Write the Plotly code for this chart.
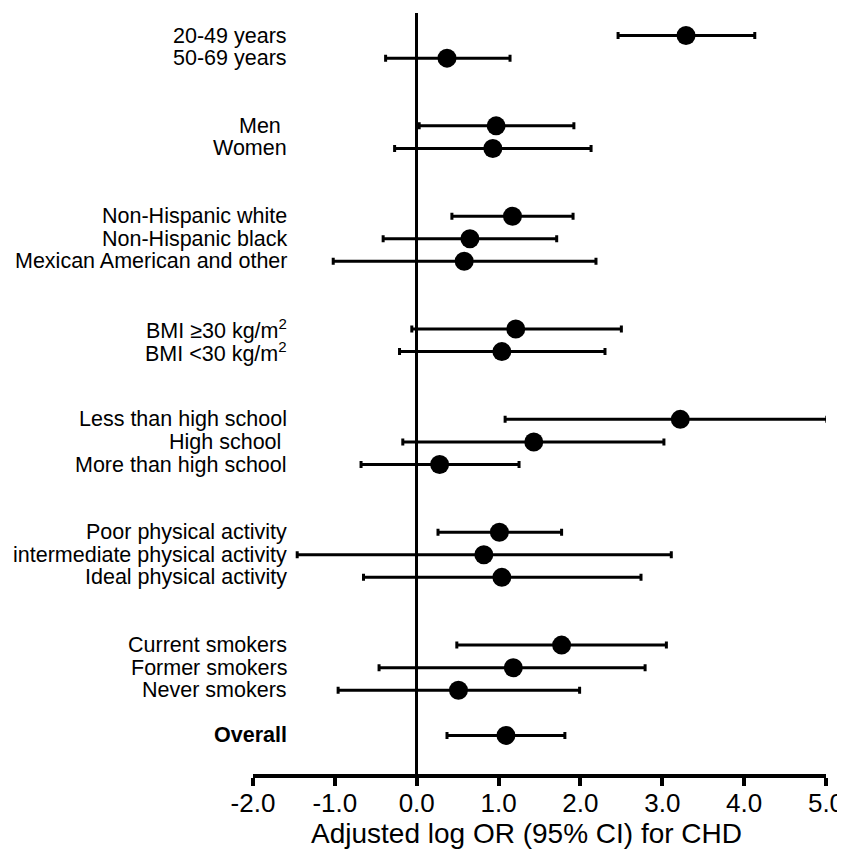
import plotly.graph_objects as go

# ---- data ----
labels = [
    "20-49 years", "50-69 years",
    "Men\u00a0", "Women",
    "Non-Hispanic white", "Non-Hispanic black", "Mexican American and other",
    "BMI \u226530 kg/m<sup>2</sup>", "BMI <30 kg/m<sup>2</sup>",
    "Less than high school", "High school\u00a0", "More than high school",
    "Poor physical activity", "intermediate physical activity", "Ideal physical activity",
    "Current smokers", "Former smokers", "Never smokers",
    "<b>Overall</b>",
]
group_sizes = [2, 2, 3, 2, 3, 3, 3, 1]
estimate = [3.29, 0.37, 0.97, 0.93, 1.17, 0.65, 0.58, 1.21, 1.04,
            3.22, 1.43, 0.28, 1.01, 0.82, 1.04, 1.77, 1.18, 0.51, 1.09]
ci_low = [2.46, -0.38, 0.03, -0.27, 0.43, -0.41, -1.02, -0.06, -0.21,
          1.08, -0.17, -0.68, 0.26, -1.46, -0.65, 0.49, -0.46, -0.96, 0.37]
ci_high = [4.13, 1.14, 1.92, 2.13, 1.91, 1.71, 2.19, 2.50, 2.30,
           5.01, 3.02, 1.25, 1.77, 3.11, 2.74, 3.05, 2.79, 1.99, 1.81]
x_ticks = [-2.0, -1.0, 0.0, 1.0, 2.0, 3.0, 4.0, 5.0]
x_title = "Adjusted log OR (95% CI) for CHD"

# ---- row positions (groups separated by blank rows) ----
rows = []
pos = 0
for gi, n in enumerate(group_sizes):
    if gi == len(group_sizes) - 1:
        pos += -1  # overall row sits closer to the last group
    for _ in range(n):
        rows.append(pos)
        pos += 1
    pos += 2

err_plus = [h - e for h, e in zip(ci_high, estimate)]
err_minus = [e - l for e, l in zip(estimate, ci_low)]

FONT = "Arial, 'Liberation Sans', sans-serif"

fig = go.Figure()
fig.add_trace(go.Scatter(
    x=estimate, y=rows, mode="markers",
    marker=dict(size=19, color="black", symbol="circle"),
    error_x=dict(type="data", symmetric=False, array=err_plus,
                 arrayminus=err_minus, color="black", thickness=3, width=3.5),
    showlegend=False, hoverinfo="skip", cliponaxis=False,
))

for lab, r in zip(labels, rows):
    fig.add_annotation(
        x=0.0628, xref="paper", y=r, yref="y", text=lab,
        xanchor="right", yanchor="middle", showarrow=False,
        font=dict(family=FONT, size=21.5, color="black"),
    )

# x-axis title (slightly left of the plot centre, as in the original)
fig.add_annotation(
    x=0.477, xref="paper", y=-0.0788, yref="paper", text=x_title,
    xanchor="center", yanchor="middle", showarrow=False,
    font=dict(family=FONT, size=28, color="black"),
)

fig.update_layout(
    template="none",
    width=837, height=842,
    margin=dict(l=245, r=19, t=5, b=76, pad=0, autoexpand=False),
    paper_bgcolor="white", plot_bgcolor="white",
    font=dict(family=FONT, color="black"),
    xaxis=dict(
        range=[-2, 5], tickvals=x_ticks, automargin=False,
        ticktext=[f"{v:.1f}" for v in x_ticks],
        tickfont=dict(size=26, family=FONT, color="black"),
        ticklabelstandoff=-5,
        showgrid=False, zeroline=True, zerolinecolor="black", zerolinewidth=3,
        showline=True, linecolor="black", linewidth=4,
        ticks="outside", ticklen=8, tickwidth=4, tickcolor="black",
    ),
    yaxis=dict(
        range=[rows[-1] + 1.71, -1], showgrid=False, zeroline=False,
        showline=False, showticklabels=False, ticks="", automargin=False,
    ),
)

fig.write_html("out.html")
